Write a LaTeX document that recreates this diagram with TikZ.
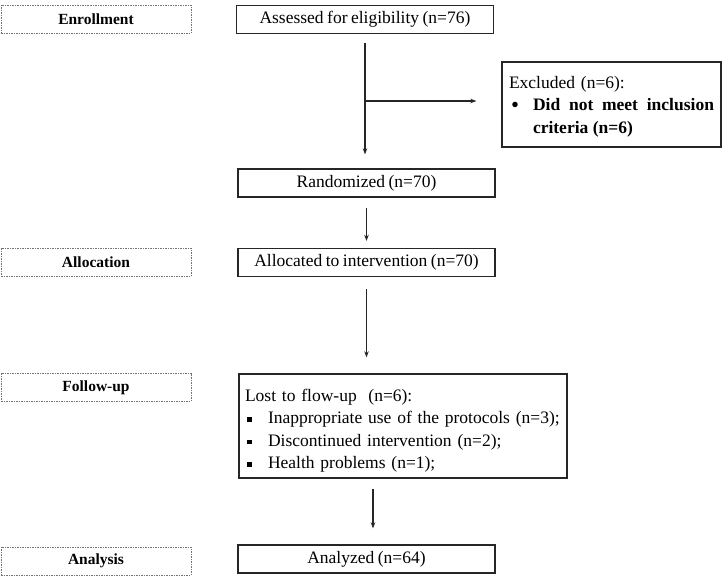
\documentclass[tikz,border=0pt]{standalone}
\usepackage{fontspec}
\usepackage{graphicx}
\setmainfont{Liberation Serif}
\usetikzlibrary{arrows.meta}

\newcommand{\sqbul}{\rule[0.25ex]{4.5pt}{4.5pt}}
\newcommand{\tightsp}{\spaceskip=0.2em plus 0.1em minus 0.05em\relax}

\begin{document}
\begin{tikzpicture}[x=1pt,y=-1pt,
  stage/.style={draw=black!55,dash pattern=on 1.5pt off 1pt,line width=0.9pt,
    minimum width=190pt,minimum height=28pt,inner sep=0pt,
    font=\fontsize{15.5}{18}\selectfont\bfseries},
  box/.style={draw=black!85,line width=1.3pt,minimum width=257pt,minimum height=28pt,
    inner sep=0pt,font=\fontsize{17.5}{22.5}\selectfont\tightsp},
  flow/.style={draw=black!85,line width=1.2pt,-{Stealth[length=6pt,width=4.5pt]}}]

\useasboundingbox (0,0) rectangle (723,577);

% stages on the left
\draw (96,19.5) node(ENROLL)[stage]{Enrollment};
\draw (96,262.5) node(ALLOCS)[stage]{Allocation};
\draw (96,387.5) node(FOLLOW)[stage]{Follow-up};
\draw (96,561) node(ANALYS)[stage]{Analysis};

% main boxes
\draw (365,19.5) node(ASSESS)[box]{Assessed for eligibility (n=76)};
\draw (611.5,104.5) node(EXCL)[box,minimum width=219pt,minimum height=85pt,
  text width=205pt,align=left]{\rule{0pt}{16.5pt}Excluded (n=6):\\
  \makebox[24pt][l]{\hspace{2pt}\raisebox{-0.25ex}{\scalebox{1.3}{\textbullet}}}\parbox[t]{181pt}{\fontsize{17.5}{22.5}\selectfont\bfseries
  \rightskip=0pt\relax\spaceskip=0.25em plus 1em\relax Did not meet inclusion criteria (n=6)}};
\draw (366.5,183) node(RAND)[box]{Randomized (n=70)};
\draw (366.5,262.5) node(ALLOC)[box]{Allocated to intervention (n=70)};
\draw (403,426) node(LOST)[box,minimum width=328pt,minimum height=104pt,
  text width=316pt,align=left]{\rule{0pt}{22pt}Lost to flow-up~ (n=6):\\
  \makebox[23pt][l]{\hspace{2pt}\sqbul}Inappropriate use of the protocols (n=3);\\
  \makebox[23pt][l]{\hspace{2pt}\sqbul}Discontinued intervention (n=2);\\
  \makebox[23pt][l]{\hspace{2pt}\sqbul}Health problems (n=1);};
\draw (366.5,559) node(ANALYZ)[box]{Analyzed (n=64)};

% arrows
\coordinate (SPLIT) at (365,101);
\draw[flow,shorten <=9pt,shorten >=14pt] (ASSESS.south) -- (ASSESS.south |- RAND.north);
\draw[flow,shorten >=25pt] (SPLIT) -- (SPLIT -| EXCL.west);
\draw[flow,shorten <=10pt,shorten >=7pt] (RAND) -- (ALLOC);
\draw[flow,shorten <=12pt,shorten >=16pt] (ALLOC.south) -- (ALLOC.south |- LOST.north);
\draw[flow,shorten <=10pt,shorten >=16pt] ([xshift=6.5pt]ANALYZ.north |- LOST.south) -- ([xshift=6.5pt]ANALYZ.north);

\end{tikzpicture}
\end{document}
